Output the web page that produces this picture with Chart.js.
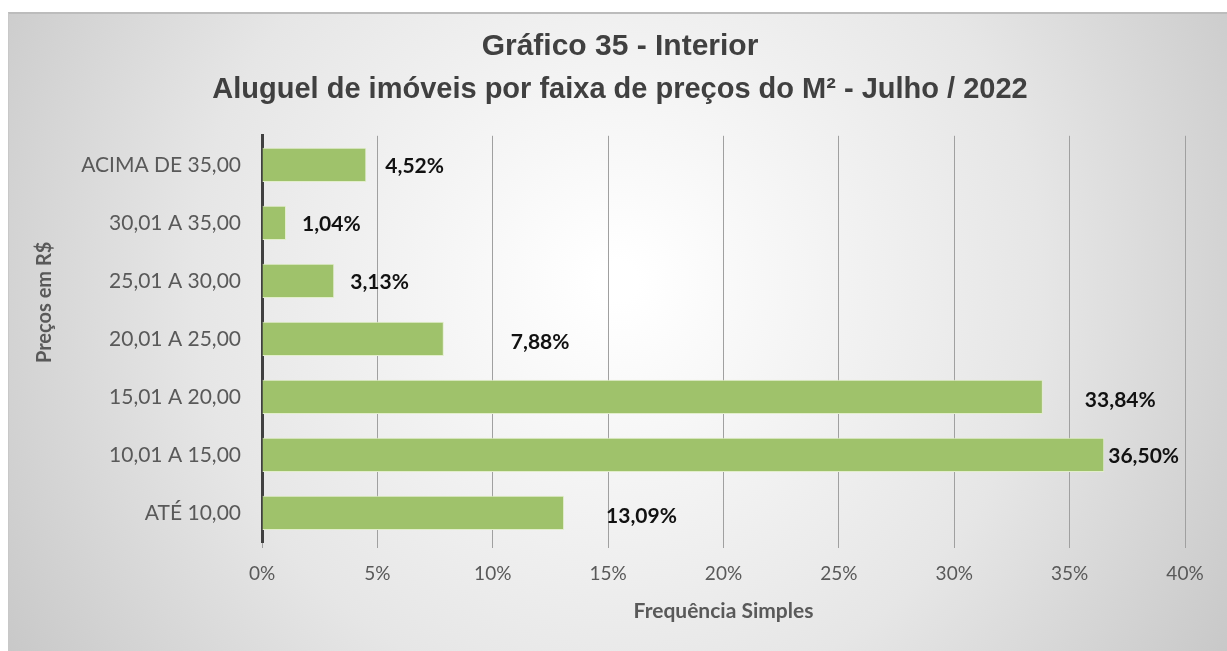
<!DOCTYPE html>
<html>
<head>
<meta charset="utf-8">
<script src="https://cdn.jsdelivr.net/npm/chart.js@4/dist/chart.umd.min.js"></script>
<style>
  html, body { margin: 0; padding: 0; background: #ffffff; }
  #caixa {
    position: absolute; left: 8px; top: 12px;
    width: 1219px; height: 639px;
    border-top: 2px solid #bcbcbc; border-left: 1px solid #c8c8c8;
    box-sizing: border-box;
  }
</style>
</head>
<body>
<div id="caixa"><canvas id="grafico"></canvas></div>
<script>
//dados do grafico
const faixas = ['ACIMA DE 35,00', '30,01 A 35,00', '25,01 A 30,00', '20,01 A 25,00', '15,01 A 20,00', '10,01 A 15,00', 'ATÉ 10,00'];
const percentuais = [4.52, 1.04, 3.13, 7.88, 33.84, 36.50, 13.09];
const ticksX = [0, 5, 10, 15, 20, 25, 30, 35, 40];

const fonteTexto = 'Lato, Calibri, "Open Sans", sans-serif';

//fundo com degrade radial como no excel
const fundo = {
  id: 'fundo',
  beforeDraw(chart) {
    const c = chart.ctx, w = chart.width, h = chart.height;
    const g = c.createRadialGradient(w * 0.5, h * 0.42, 20, w * 0.5, h * 0.42, w * 0.62);
    g.addColorStop(0, '#ffffff');
    g.addColorStop(0.55, '#e6e6e6');
    g.addColorStop(1, '#c4c4c4');
    c.save();
    c.fillStyle = g;
    c.fillRect(0, 0, w, h);
    c.restore();
  }
};

//titulo do eixo y (no original ele fica um pouco acima do centro)
const tituloY = {
  id: 'tituloY',
  afterDraw(chart) {
    const c = chart.ctx, area = chart.chartArea;
    c.save();
    c.translate(36, area.top + (area.bottom - area.top) * 0.41);
    c.rotate(-Math.PI / 2);
    c.font = 'bold 20px ' + fonteTexto;
    c.fillStyle = '#595959';
    c.textAlign = 'center';
    c.textBaseline = 'middle';
    c.fillText('Preços em R$', 0, 0);
    c.restore();
  }
};

//rotulos de dados (posicoes ajustadas a mao, igual ao original)
const rotulos = {
  id: 'rotulos',
  afterDatasetsDraw(chart, args, opts) {
    const c = chart.ctx;
    const meta = chart.getDatasetMeta(0);
    c.save();
    c.font = 'bold 21px ' + fonteTexto;
    c.fillStyle = '#111111';
    c.textAlign = 'left';
    c.textBaseline = 'middle';
    meta.data.forEach((bar, i) => {
      const txt = percentuais[i].toFixed(2).replace('.', ',') + '%';
      c.fillText(txt, bar.x + opts.dx[i], bar.y + opts.dy[i]);
    });
    c.restore();
  }
};

const ctx = document.getElementById('grafico');
new Chart(ctx, {
  type: 'bar',
  data: {
    labels: faixas,
    datasets: [{
      data: percentuais,
      backgroundColor: '#9fc26b',
      borderColor: '#e2eecb',
      borderWidth: 1,
      barPercentage: 0.59,
      categoryPercentage: 1
    }]
  },
  options: {
    indexAxis: 'y',
    responsive: true,
    maintainAspectRatio: false,
    animation: false,
    layout: { padding: { left: 46, right: 42, top: 0, bottom: 0 } },
    plugins: {
      legend: { display: false },
      tooltip: { enabled: false },
      title: {
        display: true,
        text: 'Gráfico 35 - Interior',
        color: '#404040',
        font: { family: '"Liberation Sans", Arial, sans-serif', size: 30, weight: 'bold' },
        padding: { top: 15, bottom: 8 }
      },
      subtitle: {
        display: true,
        text: 'Aluguel de imóveis por faixa de preços do M² - Julho / 2022',
        color: '#404040',
        font: { family: '"Liberation Sans", Arial, sans-serif', size: 29, weight: 'bold' },
        padding: { top: 0, bottom: 28 }
      },
      rotulos: {
        dx: [19, 16, 16, 67, 42, 4, 42],
        dy: [1, 1, 1, 3, 3, 1, 3]
      }
    },
    scales: {
      x: {
        min: 0,
        max: 40,
        afterBuildTicks(scale) { scale.ticks = ticksX.map(v => ({ value: v })); },
        ticks: {
          color: '#595959',
          font: { family: fonteTexto, size: 19 },
          padding: 14,
          callback: v => v + '%'
        },
        grid: { color: '#a0a0a0', lineWidth: 1, tickLength: 6 },
        border: { display: false },
        title: {
          display: true,
          text: 'Frequência Simples',
          color: '#595959',
          font: { family: fonteTexto, size: 21, weight: 'bold' },
          padding: { top: 0, bottom: 27 }
        }
      },
      y: {
        afterFit(scale) { scale.width = 207; },
        grid: { display: false, drawTicks: false, tickLength: 0 },
        border: { display: true, color: '#404040', width: 3 },
        ticks: {
          color: '#595959',
          font: { family: fonteTexto, size: 21 },
          padding: 21
        }
      }
    }
  },
  plugins: [fundo, rotulos, tituloY]
});
</script>
</body>
</html>
